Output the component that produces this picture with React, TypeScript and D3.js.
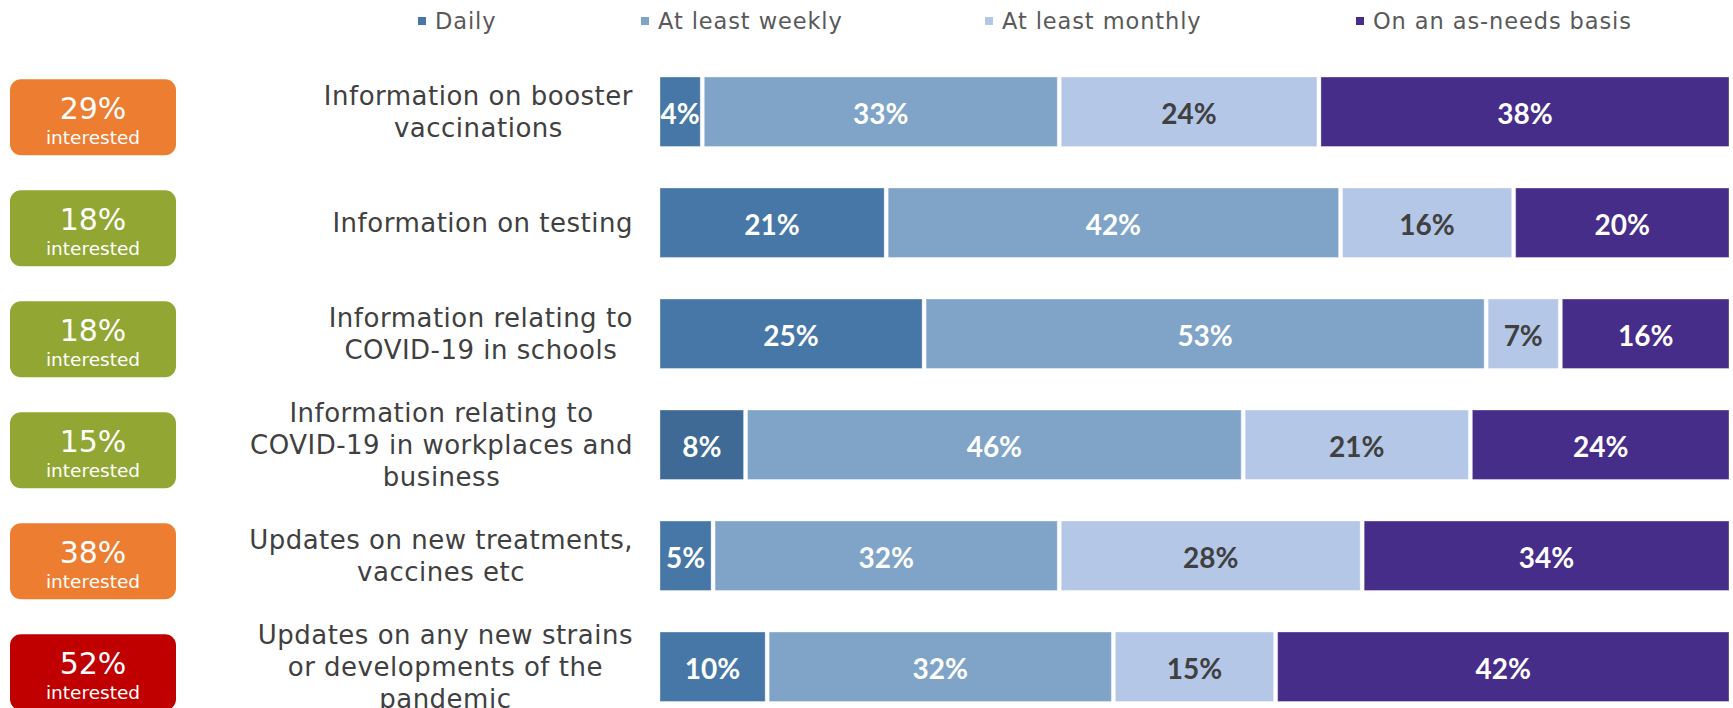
import React, { useEffect, useRef } from "react";
import * as d3 from "d3";

// ---- data ----
const categoryLines: string[][] = [
  ["Information on booster", "vaccinations"],
  ["Information on testing"],
  ["Information relating to", "COVID-19 in schools"],
  ["Information relating to", "COVID-19 in workplaces and", "business"],
  ["Updates on new treatments,", "vaccines etc"],
  ["Updates on any new strains", "or developments of the", "pandemic"],
];
const seriesNames = ["Daily", "At least weekly", "At least monthly", "On an as-needs basis"];
const daily = [4, 21, 25, 8, 5, 10];
const weekly = [33, 42, 53, 46, 32, 32];
const monthly = [24, 16, 7, 21, 28, 15];
const asNeeds = [38, 20, 16, 24, 34, 42];
const interested = [29, 18, 18, 15, 38, 52];

// ---- styles ----
const seriesColors = ["#4677A7", "#7FA4C8", "#B4C7E7", "#472D8A"];
const highlightDailyColor = "#3E6A95";
const highlightRow = 3;
const labelColors = ["#FFFFFF", "#FFFFFF", "#404040", "#FFFFFF"];
const W = 1733;
const H = 708;

function badgeColor(v: number) {
  if (v >= 50) return "#C00000";
  if (v >= 25) return "#ED7D31";
  return "#92A633";
}

export default function App() {
  const ref = useRef<SVGSVGElement>(null);

  useEffect(() => {
    const svg = d3.select(ref.current);
    svg.selectAll("*").remove();

    const rows = categoryLines.map((lines, i) => ({
      key: i,
      lines,
      Daily: daily[i],
      "At least weekly": weekly[i],
      "At least monthly": monthly[i],
      "On an as-needs basis": asNeeds[i],
      interested: interested[i],
    }));

    const stacked = d3
      .stack<any>()
      .keys(seriesNames)
      .offset(d3.stackOffsetExpand)(rows);

    const x = d3.scaleLinear().domain([0, 1]).range([659, 1730]);
    const y = d3
      .scaleBand<number>()
      .domain(rows.map((r) => r.key))
      .range([77, 701.5])
      .paddingInner(0.374)
      .paddingOuter(0);
    const bh = y.bandwidth();

    // legend
    const legendX = [418, 641, 985, 1356];
    const lg = svg.append("g");
    seriesNames.forEach((s, i) => {
      lg.append("rect")
        .attr("x", legendX[i])
        .attr("y", 17)
        .attr("width", 8)
        .attr("height", 8)
        .attr("fill", seriesColors[i]);
      lg.append("text")
        .attr("x", legendX[i] + 17)
        .attr("y", 21)
        .attr("dominant-baseline", "central")
        .attr("font-family", "'DejaVu Sans', sans-serif")
        .attr("font-size", 22.5)
        .attr("letter-spacing", 0.9)
        .attr("fill", "#595959")
        .text(s);
    });

    // bars
    stacked.forEach((layer, si) => {
      const g = svg.append("g");
      layer.forEach((seg, ri) => {
        const x0 = x(seg[0]) + (si === 0 ? 1 : 2);
        const x1 = x(seg[1]) - (si === seriesNames.length - 1 ? 1 : 2);
        const yy = y(ri) as number;
        const fill = si === 0 && ri === highlightRow ? highlightDailyColor : seriesColors[si];
        g.append("rect")
          .attr("x", x0)
          .attr("y", yy)
          .attr("width", Math.max(0, x1 - x0))
          .attr("height", bh)
          .attr("fill", fill)
          .attr("stroke", "rgba(255,255,255,0.35)")
          .attr("stroke-width", 1);
        const val = (rows[ri] as any)[seriesNames[si]];
        g.append("text")
          .attr("x", (x0 + x1) / 2)
          .attr("y", yy + bh / 2 + 1)
          .attr("text-anchor", "middle")
          .attr("dominant-baseline", "central")
          .attr("font-family", "Lato, sans-serif")
          .attr("font-weight", 700)
          .attr("font-size", 28)
          .attr("fill", labelColors[si])
          .text(`${val}%`);
      });
    });

    // category labels
    const lineH = 32;
    const catRight = 633;
    rows.forEach((r, ri) => {
      const cy = (y(ri) as number) + bh / 2;
      const g = svg.append("g");
      const texts = r.lines.map((ln, li) =>
        g
          .append("text")
          .attr("y", cy + (li - (r.lines.length - 1) / 2) * lineH)
          .attr("text-anchor", "middle")
          .attr("dominant-baseline", "central")
          .attr("font-family", "'DejaVu Sans', sans-serif")
          .attr("font-size", 26)
          .attr("letter-spacing", 0.5)
          .attr("fill", "#404040")
          .text(ln)
      );
      const maxW = d3.max(texts, (t) => (t.node() as SVGTextElement).getComputedTextLength()) || 0;
      texts.forEach((t) => t.attr("x", catRight - maxW / 2));
    });

    // badges
    const bw = 166;
    const bHt = 76;
    rows.forEach((r, ri) => {
      const cy = (y(ri) as number) + bh / 2 + 5.5;
      const top = cy - bHt / 2;
      const g = svg.append("g");
      g.append("rect")
        .attr("x", 10)
        .attr("y", top)
        .attr("width", bw)
        .attr("height", bHt)
        .attr("rx", 11)
        .attr("fill", badgeColor(r.interested));
      g.append("text")
        .attr("x", 10 + bw / 2)
        .attr("y", top + 40)
        .attr("text-anchor", "middle")
        .attr("font-family", "'DejaVu Sans', sans-serif")
        .attr("font-size", 30)
        .attr("fill", "#FFFFFF")
        .text(`${r.interested}%`);
      g.append("text")
        .attr("x", 10 + bw / 2)
        .attr("y", top + 65)
        .attr("text-anchor", "middle")
        .attr("font-family", "'DejaVu Sans', sans-serif")
        .attr("font-size", 18.5)
        .attr("fill", "#FFFFFF")
        .text("interested");
    });
  }, []);

  return (
    <svg
      ref={ref}
      width={W}
      height={H}
      style={{ position: "absolute", left: 0, top: 0, background: "#FFFFFF" }}
    />
  );
}
